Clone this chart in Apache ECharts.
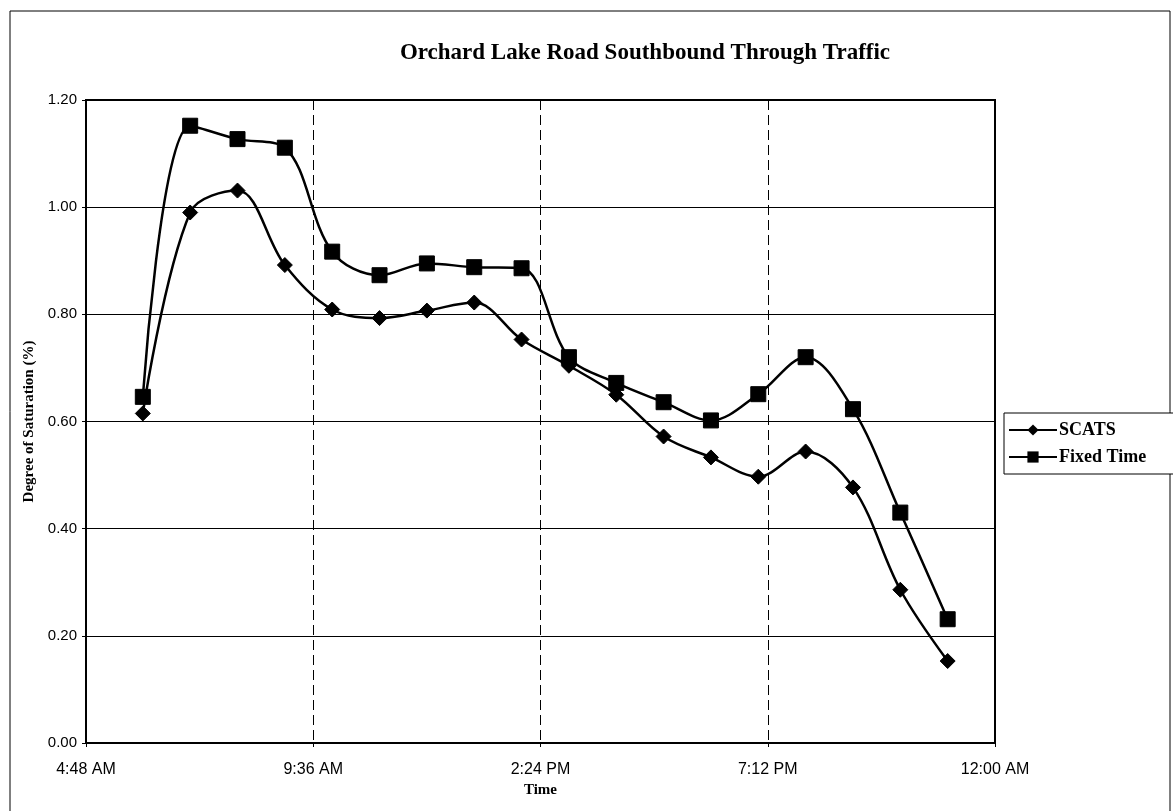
<!DOCTYPE html>
<html>
<head>
<meta charset="utf-8">
<script src="https://cdn.jsdelivr.net/npm/echarts@6/dist/echarts.min.js"></script>
<style>
html,body{margin:0;padding:0;background:#fff;}
#chart{width:1173px;height:811px;}
</style>
</head>
<body>
<div id="chart"></div>
<script>
var titleText = 'Orchard Lake Road Southbound Through Traffic';
var hours = [6, 7, 8, 9, 10, 11, 12, 13, 14, 15, 16, 17, 18, 19, 20, 21, 22, 23];
var scats = [0.615, 0.990, 1.031, 0.892, 0.809, 0.793, 0.807, 0.822, 0.753, 0.704, 0.650, 0.572, 0.533, 0.497, 0.544, 0.477, 0.286, 0.153];
var fixedTime = [0.646, 1.152, 1.127, 1.111, 0.917, 0.873, 0.895, 0.888, 0.886, 0.720, 0.672, 0.636, 0.602, 0.651, 0.720, 0.623, 0.430, 0.231];
var xTickLabels = ['4:48 AM', '9:36 AM', '2:24 PM', '7:12 PM', '12:00 AM'];
var yTickLabels = ['0.00', '0.20', '0.40', '0.60', '0.80', '1.00', '1.20'];

var chart = echarts.init(document.getElementById('chart'));
var serif = '"Liberation Serif", "DejaVu Serif", serif';
var sans = '"Liberation Sans", Arial, sans-serif';

function pairs(vals) {
  return hours.map(function (h, i) { return [h, vals[i]]; });
}

chart.setOption({
  animation: false,
  backgroundColor: '#fff',
  graphic: [{
    type: 'rect',
    shape: { x: 10, y: 11, width: 1160, height: 820 },
    style: { fill: 'none', stroke: '#000', lineWidth: 1 },
    silent: true
  }],
  title: {
    text: titleText,
    left: 640, top: 37, textAlign: 'center',
    textStyle: { fontFamily: serif, fontWeight: 'bold', fontSize: 23, color: '#000' }
  },
  legend: {
    orient: 'vertical',
    left: 1004, top: 413,
    itemWidth: 48, itemHeight: 14, itemGap: 9,
    padding: [8, 40, 8, 4],
    borderColor: '#000', borderWidth: 1,
    backgroundColor: '#fff',
    textStyle: { fontFamily: serif, fontWeight: 'bold', fontSize: 18, color: '#000', padding: [0, 0, 0, -3] },
    data: ['SCATS', 'Fixed Time']
  },
  grid: { left: 86, right: 178, top: 100, bottom: 68, show: true, borderColor: '#000', borderWidth: 2, backgroundColor: 'transparent' },
  xAxis: {
    type: 'value', min: 4.8, max: 24, interval: 4.8,
    name: 'Time', nameLocation: 'middle', nameGap: 39,
    nameTextStyle: { fontFamily: serif, fontWeight: 'bold', fontSize: 15, color: '#000' },
    axisLine: { lineStyle: { color: '#000', width: 2 } },
    axisTick: { show: true, length: 4, lineStyle: { color: '#000' } },
    axisLabel: {
      fontFamily: sans, fontSize: 16, color: '#000', margin: 19,
      formatter: function (v) { return xTickLabels[Math.round((v - 4.8) / 4.8)]; }
    },
    splitLine: { show: true, lineStyle: { color: '#000', type: [10, 5], width: 1 } }
  },
  yAxis: {
    type: 'value', min: 0, max: 1.2, interval: 0.2,
    name: 'Degree of Saturation (%)', nameLocation: 'middle', nameGap: 42, nameRotate: 90,
    nameTextStyle: { fontFamily: serif, fontWeight: 'bold', fontSize: 15, color: '#000' },
    axisLine: { show: true, lineStyle: { color: '#000', width: 2 } },
    axisTick: { show: true, length: 4, lineStyle: { color: '#000' } },
    axisLabel: {
      fontFamily: sans, fontSize: 15, color: '#000', margin: 9,
      formatter: function (v) { return yTickLabels[Math.round(v / 0.2)]; }
    },
    splitLine: { show: true, lineStyle: { color: '#000', width: 1 } }
  },
  series: [
    {
      name: 'SCATS', type: 'line', data: pairs(scats), smooth: 0.35,
      symbol: 'diamond', symbolSize: 15,
      lineStyle: { color: '#000', width: 2.5 },
      itemStyle: { color: '#000', borderColor: '#000' }
    },
    {
      name: 'Fixed Time', type: 'line', data: pairs(fixedTime), smooth: 0.35,
      symbol: 'rect', symbolSize: 15,
      lineStyle: { color: '#000', width: 2.5 },
      itemStyle: { color: '#000', borderColor: '#000' }
    }
  ]
});
</script>
</body>
</html>
